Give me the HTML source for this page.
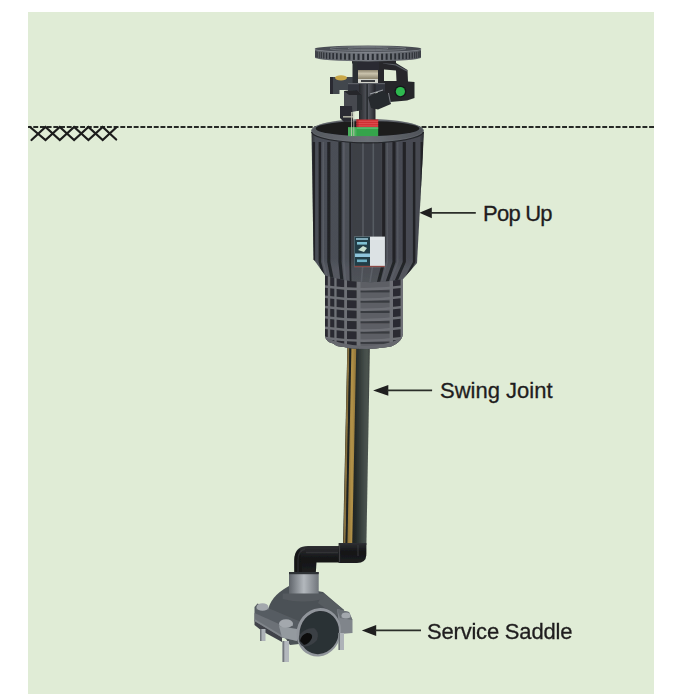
<!DOCTYPE html>
<html><head><meta charset="utf-8">
<style>
html,body{margin:0;padding:0;background:#fff;width:700px;height:700px;overflow:hidden;}
#panel{position:absolute;left:28px;top:12px;width:626px;height:682px;background:#e0ecd6;}
.lbl{position:absolute;font-family:"Liberation Sans",sans-serif;font-size:22px;line-height:22px;color:#1f1d1e;white-space:nowrap;-webkit-text-stroke:0.3px #1f1d1e;}
svg{position:absolute;left:0;top:0;}
</style></head>
<body>
<div id="panel"></div>
<svg width="700" height="700" viewBox="0 0 700 700">
  <line x1="28" y1="127" x2="654" y2="127" stroke="#262926" stroke-width="1.9" stroke-dasharray="4.9 1.794" stroke-dashoffset="1.41"/>
  <g stroke="#1c1c1c" stroke-width="2.2" fill="none" stroke-linecap="round">
    <polyline points="30,127 45.5,140 59.8,127 74.1,140 88.4,127 102.7,140 116.2,127.5"/>
    <polyline points="31.5,140 45.5,127 59.8,140 74.1,127 88.4,140 102.7,127 116.2,139.5"/>
  </g>
  <g fill="#1f1f1f">
    <polygon points="419.4,212.8 431.8,207.4 431.8,218.2"/>
    <polygon points="373.1,390.4 388.3,385.1 388.3,395.8"/>
    <polygon points="361.8,630.4 376.2,624.9 376.2,635.9"/>
  </g>
  <g stroke="#2b2e29" stroke-width="1.7">
    <line x1="430" y1="212.8" x2="475.8" y2="212.8"/>
    <line x1="387" y1="390.4" x2="432.1" y2="390.4"/>
    <line x1="375" y1="630.4" x2="421" y2="630.4"/>
  </g>
<g filter="url(#soft)">
<defs>
<filter id="soft" x="-5%" y="-5%" width="110%" height="110%"><feGaussianBlur stdDeviation="0.35"/></filter>
<linearGradient id="gBody" x1="311" x2="424" y1="0" y2="0" gradientUnits="userSpaceOnUse">
 <stop offset="0" stop-color="#2a2c30"/><stop offset="0.04" stop-color="#4a4e56"/>
 <stop offset="0.34" stop-color="#4b4f57"/><stop offset="0.37" stop-color="#3c3f45"/>
 <stop offset="0.62" stop-color="#3e4147"/><stop offset="0.66" stop-color="#484b53"/><stop offset="0.96" stop-color="#464951"/><stop offset="1" stop-color="#2a2c30"/>
</linearGradient>
<linearGradient id="gTaperV" x1="0" x2="0" y1="0" y2="1">
 <stop offset="0" stop-color="#5c5f66" stop-opacity="0"/><stop offset="0.35" stop-color="#5c5f66" stop-opacity="0.5"/><stop offset="1" stop-color="#5a5d64" stop-opacity="0.7"/>
</linearGradient>
<linearGradient id="gCage" x1="325" x2="403" y1="0" y2="0" gradientUnits="userSpaceOnUse">
 <stop offset="0" stop-color="#505258"/><stop offset="0.3" stop-color="#64666c"/>
 <stop offset="0.7" stop-color="#5e6066"/><stop offset="1" stop-color="#4a4c52"/>
</linearGradient>
<linearGradient id="gPipe" x1="0" x2="1" y1="0" y2="0">
 <stop offset="0" stop-color="#1c201f"/><stop offset="0.45" stop-color="#232927"/><stop offset="0.8" stop-color="#454e4a"/><stop offset="0.9" stop-color="#4b534f"/><stop offset="1" stop-color="#3a403d"/>
</linearGradient>
<linearGradient id="gGold" x1="0" x2="1" y1="0" y2="0">
 <stop offset="0" stop-color="#8f733a"/><stop offset="0.5" stop-color="#b39348"/><stop offset="1" stop-color="#8d7238"/>
</linearGradient>
<linearGradient id="gBlack" x1="0" x2="0" y1="0" y2="1">
 <stop offset="0" stop-color="#2e2f32"/><stop offset="0.45" stop-color="#141517"/><stop offset="1" stop-color="#1d1e20"/>
</linearGradient>
<linearGradient id="gBlackV" x1="0" x2="1" y1="0" y2="0">
 <stop offset="0" stop-color="#151618"/><stop offset="0.55" stop-color="#2c2d30"/><stop offset="1" stop-color="#131416"/>
</linearGradient>
<linearGradient id="gCoup" x1="0" x2="1" y1="0" y2="0">
 <stop offset="0" stop-color="#5f646a"/><stop offset="0.5" stop-color="#b3b8bd"/><stop offset="1" stop-color="#70757b"/>
</linearGradient>
<linearGradient id="gDisc" x1="0" x2="1" y1="0" y2="0">
 <stop offset="0" stop-color="#464a50"/><stop offset="0.5" stop-color="#555960"/><stop offset="1" stop-color="#44484e"/>
</linearGradient>
<linearGradient id="gRim" x1="0" x2="1" y1="0" y2="0">
 <stop offset="0" stop-color="#55595f"/><stop offset="0.5" stop-color="#6b6f76"/><stop offset="1" stop-color="#4e5258"/>
</linearGradient>
<linearGradient id="gRimD" x1="0" x2="1" y1="0" y2="0">
 <stop offset="0" stop-color="#5d6167"/><stop offset="0.5" stop-color="#767a81"/><stop offset="1" stop-color="#595d63"/>
</linearGradient>
<linearGradient id="gDrum" x1="0" x2="0" y1="0" y2="1">
 <stop offset="0" stop-color="#8d8570"/><stop offset="0.4" stop-color="#c9c2ac"/><stop offset="1" stop-color="#8a826c"/>
</linearGradient>
<linearGradient id="gRiser" x1="0" x2="1" y1="0" y2="0">
 <stop offset="0" stop-color="#26282c"/><stop offset="0.55" stop-color="#585b62"/><stop offset="1" stop-color="#222428"/>
</linearGradient>
<clipPath id="cBody"><path d="M311.5,132 L313.6,259.3 L325.3,275.5 Q364,287 403,279 L417,263 L424,132 Z"/></clipPath>
<clipPath id="cCage"><path d="M325,270 L325,336 Q326,342 333,343.5 Q337,347 344,347 Q350,349 358,348.6 Q372,349.5 384,347.5 Q392,347 396,344 Q402,340 403,334 L403,270 Z"/></clipPath>
</defs>
<path d="M347.5,340 L370,340 L366.4,545 L343,545 Z" fill="url(#gPipe)"/>
<path d="M347.6,340 L349.6,340 L345.6,545 L343.4,545 Z" fill="#86703f"/>
<path d="M349.6,340 L351.6,340 L347.4,545 L345.6,545 Z" fill="#1e2220"/>
<path d="M351.6,340 L356.4,340 L352.2,545 L347.4,545 Z" fill="url(#gGold)"/>
<path d="M294.3,574.5 L294.3,560 Q294.3,546 308,546 L342,546 L342,562.5 L316.5,562.5 L315.7,574.5 Z" fill="url(#gBlack)"/>
<path d="M294.3,574.5 L294.3,560 Q294.3,552 300,549 L302,574.5 Z" fill="#101113" opacity="0.6"/>
<path d="M338.6,543 L366.4,543 L366.4,554 Q366.4,563 357,563 L338.6,563 Z" fill="url(#gBlack)"/>
<line x1="339.5" y1="545" x2="339.5" y2="562.5" stroke="#3d3e41" stroke-width="1.2"/>
<path d="M306,552.5 L338,552.5" stroke="#3a3b3e" stroke-width="1.6" opacity="0.7"/>
<path d="M298,574 L298,560 Q298,551 305,549" stroke="#3a3b3e" stroke-width="1.4" fill="none" opacity="0.6"/>
<path d="M358,545 L358,556" stroke="#3a3b3e" stroke-width="1.5" opacity="0.6"/>
<path d="M268,612 Q269,597 289,586 L323,592 L344,610 L336,640 L290,645 Z" fill="#4c5156"/>
<path d="M323,593 L344,610 L336,616 L318,603 Z" fill="#565b60"/>
<rect x="289" y="572" width="29.7" height="22.5" fill="url(#gCoup)"/>
<rect x="289" y="572" width="29.7" height="2.2" fill="#2e3034"/>
<path d="M282.7,593.5 L323.3,593.5 L323.3,599 Q303,604 282.7,599 Z" fill="#555a5f"/>
<path d="M254.5,620 L282,636 L282,642 L262,631 L254.5,625 Z" fill="#3f4348"/>
<path d="M254.5,607 L257.5,603.5 L301,622 L297,641 L282,637.5 L254.5,621 Z" fill="#575c62"/>
<path d="M254.5,613 L297,632 L297,641 L282,637.5 L254.5,621 Z" fill="#6c7177"/>
<path d="M254.5,619 L282,635.5 L282,637.5 L254.5,621 Z" fill="#80858b"/>
<path d="M279,626 L297,629 L297,641 L282,637.5 Z" fill="#949a9f"/>
<path d="M337,609 L349,612 L352.5,620 L352.5,633 L340,634 Z" fill="#80858b"/>
<path d="M337,609 L349,612 L352.5,620 L340,618 Z" fill="#6a6f75"/>
<ellipse cx="318.8" cy="632.3" rx="22" ry="24.5" transform="rotate(20 318.8 632.3)" fill="#90959b"/>
<ellipse cx="319.2" cy="632.6" rx="19.5" ry="21.8" transform="rotate(20 319.2 632.6)" fill="#2c3135"/>
<path d="M299,636 Q304,628 314,628 Q320,632 317,640 Q310,648 302,646 Q298,642 299,636 Z" fill="#3a3f44"/>
<path d="M300,641 Q301,635 307,633 Q313,633 312,638 Q309,644 304,645 Z" fill="#0c0d0e"/>
<rect x="256.5" y="607" width="12" height="2.5" fill="#7f848a"/>
<ellipse cx="262.5" cy="607" rx="6" ry="3.8" fill="#a3a8ad"/>
<rect x="279" y="623.5" width="14" height="2.5" fill="#7f848a"/>
<ellipse cx="286" cy="623.5" rx="7" ry="4.3" fill="#a3a8ad"/>
<rect x="341.5" y="615.5" width="9.0" height="2.5" fill="#7f848a"/>
<ellipse cx="346" cy="615.5" rx="4.5" ry="3" fill="#a3a8ad"/>
<rect x="260" y="629" width="5.5" height="12" fill="#aeb3b8"/>
<rect x="260" y="629" width="1.5" height="12" fill="#6f7479"/>
<rect x="282.5" y="641" width="6.5" height="21" fill="#b3b8bd"/>
<rect x="282.5" y="641" width="1.8" height="21" fill="#73787d"/>
<rect x="338.5" y="633" width="5.5" height="17" fill="#aeb3b8"/>
<rect x="338.5" y="633" width="1.5" height="17" fill="#6f7479"/>
<g clip-path="url(#cCage)">
<rect x="325" y="270" width="78" height="80" fill="#2a2c31"/>
<rect x="359" y="270" width="31" height="80" fill="#5d5f65"/>
<rect x="359" y="290.2" width="31" height="2.2" fill="#383a3f"/>
<rect x="359" y="300.5" width="31" height="2.2" fill="#383a3f"/>
<rect x="359" y="310.8" width="31" height="2.2" fill="#383a3f"/>
<rect x="359" y="321.1" width="31" height="2.2" fill="#383a3f"/>
<rect x="359" y="331.4" width="31" height="2.2" fill="#383a3f"/>
<rect x="359" y="341.7" width="31" height="2.2" fill="#383a3f"/>
<rect x="327.8" y="270" width="2.4" height="80" fill="#6e7076"/>
<rect x="334.3" y="270" width="2.3" height="80" fill="#6e7076"/>
<rect x="344.2" y="270" width="2.8" height="80" fill="#6e7076"/>
<rect x="356.6" y="270" width="3.9" height="80" fill="#6e7076"/>
<rect x="389.6" y="270" width="3.4" height="80" fill="#6e7076"/>
<rect x="400.6" y="270" width="2.4" height="80" fill="#6e7076"/>
<path d="M325,285.2 Q364,290.7 403,285.2 L403,287.7 Q364,293.2 325,287.7 Z" fill="#6e7076"/>
<path d="M325,295.5 Q364,301.0 403,295.5 L403,298.0 Q364,303.5 325,298.0 Z" fill="#6e7076"/>
<path d="M325,305.8 Q364,311.3 403,305.8 L403,308.3 Q364,313.8 325,308.3 Z" fill="#6e7076"/>
<path d="M325,316.1 Q364,321.6 403,316.1 L403,318.6 Q364,324.1 325,318.6 Z" fill="#6e7076"/>
<path d="M325,326.4 Q364,331.9 403,326.4 L403,328.9 Q364,334.4 325,328.9 Z" fill="#6e7076"/>
<path d="M325,336.7 Q364,342.2 403,336.7 L403,339.2 Q364,344.7 325,339.2 Z" fill="#6e7076"/>
<path d="M325,337 Q340,345 364,346 Q392,345 403,336 L403,350 L325,350 Z" fill="#66686e"/>
</g>
<g clip-path="url(#cBody)">
<rect x="305" y="120" width="125" height="170" fill="url(#gBody)"/>
<rect x="305" y="258" width="125" height="32" fill="url(#gTaperV)"/>
<path d="M312.6,142 L315.1,142 L315.1,262 L322.8,286 L320.3,286 L312.6,262 Z" fill="#1f2024" opacity="0.9"/>
<path d="M318.6,142 L321.1,142 L321.1,262 L327.6,286 L325.1,286 L318.6,262 Z" fill="#1f2024" opacity="0.9"/>
<path d="M327.2,142 L330.4,142 L330.4,262 L335.2,286 L331.9,286 L327.2,262 Z" fill="#1f2024" opacity="0.9"/>
<path d="M338.4,142 L341.6,142 L341.6,262 L344.1,286 L340.9,286 L338.4,262 Z" fill="#1f2024" opacity="0.9"/>
<path d="M349.3,142 L351.1,142 L351.1,262 L351.6,286 L349.8,286 L349.3,262 Z" fill="#1f2024" opacity="0.9"/>
<path d="M382.1,142 L385.3,142 L385.3,262 L379.1,286 L375.9,286 L382.1,262 Z" fill="#1f2024" opacity="0.9"/>
<path d="M392.4,142 L395.6,142 L395.6,262 L387.3,286 L384.1,286 L392.4,262 Z" fill="#1f2024" opacity="0.9"/>
<path d="M402.7,142 L405.9,142 L405.9,262 L395.5,286 L392.3,286 L402.7,262 Z" fill="#1f2024" opacity="0.9"/>
<path d="M412.9,142 L415.4,142 L415.4,262 L403.0,286 L400.5,286 L412.9,262 Z" fill="#1f2024" opacity="0.9"/>
<path d="M420.6,142 L423.0,142 L423.0,262 L409.1,286 L406.7,286 L420.6,262 Z" fill="#1f2024" opacity="0.9"/>
<path d="M322.5,142 L324.1,142 L324.1,262 L330.1,286 L328.5,286 L322.5,262 Z" fill="#62666e" opacity="0.6"/>
<path d="M343.0,142 L344.8,142 L344.8,262 L346.7,286 L344.9,286 L343.0,262 Z" fill="#62666e" opacity="0.6"/>
<path d="M362.2,142 L363.8,142 L363.8,262 L361.9,286 L360.3,286 L362.2,262 Z" fill="#62666e" opacity="0.7"/>
<path d="M372.5,142 L374.1,142 L374.1,262 L370.1,286 L368.5,286 L372.5,262 Z" fill="#62666e" opacity="0.7"/>
<path d="M386.5,142 L388.0,142 L388.0,262 L381.2,286 L379.7,286 L386.5,262 Z" fill="#62666e" opacity="0.5"/>
<path d="M397.0,142 L398.5,142 L398.5,262 L389.6,286 L388.1,286 L397.0,262 Z" fill="#62666e" opacity="0.45"/>
</g>
<ellipse cx="367.5" cy="130.8" rx="56.25" ry="11.7" fill="url(#gRim)"/>
<ellipse cx="367.5" cy="130.5" rx="55.6" ry="11.1" fill="none" stroke="#6d7077" stroke-width="0.7" opacity="0.6"/>
<ellipse cx="367.5" cy="128.5" rx="51.8" ry="7.6" fill="#1a1b1e"/>
<path d="M311.4,132 A56.25,11.7 0 0 0 423.6,132" fill="none" stroke="#25272b" stroke-width="1.1"/>
<rect x="354.3" y="236.6" width="30.6" height="30.5" fill="#e3e8ea"/>
<rect x="370" y="240" width="14" height="25" fill="#d5dbde" opacity="0.5"/>
<rect x="354.3" y="236.6" width="15.7" height="30.5" fill="#223c46"/>
<rect x="356" y="238" width="12" height="2" fill="#7fa9b8"/>
<rect x="357" y="242" width="10" height="2.6" fill="#7fc0d2"/>
<path d="M358,250 L363,246 L367,248 L364,252 Z" fill="#c8e0d0"/>
<rect x="355" y="253.5" width="15" height="3.5" fill="#8ec5dc"/>
<rect x="357" y="259.5" width="10" height="2.6" fill="#6fb3c8"/>
<rect x="354.3" y="265.8" width="30.6" height="1.3" fill="#8a4a44"/>
<path d="M378,61 L396,63 L407.5,70 L408,81.5 L414.5,82 L414.5,98 L407,100.5 L390,102 L384,97 L384,95 L378,95 Z M384,69.5 L396,70.5 L396.5,81 L384,81 Z" fill="#26282c" fill-rule="evenodd"/>
<path d="M383,63 L396,65 L407,71" stroke="#5e6168" stroke-width="1.2" fill="none"/>
<circle cx="400.4" cy="91.6" r="6" fill="#17181b"/>
<circle cx="400.4" cy="91.6" r="4.6" fill="#2fb84f"/>
<path d="M330,77 L353,77 L353,90 L339.5,90 L339.5,94 L330,94 Z" fill="#42464e"/>
<rect x="330" y="77" width="3" height="17" fill="#2a2c31"/>
<ellipse cx="341" cy="77.8" rx="6" ry="2.6" fill="#c9a84a"/>
<rect x="352" y="59.5" width="44" height="4" fill="#26282c"/>
<rect x="352.5" y="60" width="5.5" height="24" fill="#2c2e33"/>
<rect x="357" y="62" width="22" height="8" fill="#2a2c30"/>
<rect x="358" y="70" width="20" height="9" fill="url(#gDrum)"/>
<rect x="358" y="79" width="20" height="4" fill="#d2d3cb"/>
<rect x="361" y="80" width="14" height="2" fill="#3a3c40"/>
<rect x="348" y="83" width="37" height="9" fill="#33363c"/>
<rect x="348" y="83" width="37" height="1.2" fill="#5b5e65"/>
<rect x="359" y="84" width="16.5" height="37" fill="url(#gRiser)"/>
<rect x="366.5" y="84" width="1.2" height="37" fill="#1c1d21"/>
<path d="M344,91 L357,90 L362,95 L362,110 L352,112 L344,110 Z" fill="#464950"/>
<path d="M344,91 L357,90 L362,95 L349,95 Z" fill="#26282c"/>
<path d="M357,95 L362,95 L362,110 L357,111 Z" fill="#2b2d32"/>
<path d="M340,106 L352,106 L353,121 L344,122 L340,118 Z" fill="#2a2c30"/>
<rect x="343" y="116" width="10" height="1.6" fill="#a9a99b"/>
<path d="M368,97 L383,90 L389,95 L391,104 L378,109.5 L371,108 Z" fill="#27292d"/>
<path d="M370,94 L383,90" stroke="#9a9da3" stroke-width="1.3"/>
<path d="M388.5,93 L390.5,103" stroke="#7c7f85" stroke-width="1"/>
<rect x="356.5" y="119.5" width="21.7" height="8" fill="#cf2f33"/>
<path d="M356.5,121.3 h21.7 M356.5,123.6 h21.7 M356.5,125.9 h21.7" stroke="#ea6a6a" stroke-width="0.7" opacity="0.8"/>
<rect x="356.5" y="119.5" width="2" height="8" fill="#9e2226" opacity="0.6"/>
<rect x="348" y="127.3" width="30.2" height="8.8" fill="#34a44b"/>
<rect x="356.5" y="127.3" width="21.7" height="1.5" fill="#5fc073"/>
<rect x="348" y="127.3" width="8.5" height="8.8" fill="#49b15c"/>
<path d="M351.5,112 L351.5,136 M353.8,112 L353.8,136" stroke="#c5c5b5" stroke-width="0.8"/>
<path d="M315,48.8 L315,57.6 A53,3.8 0 0 0 421,57.6 L421,48.8 Z" fill="url(#gRimD)"/>
<rect x="420.22" y="51.03" width="0.60" height="6.2" fill="#2c2f34"/>
<rect x="419.37" y="51.31" width="0.60" height="6.2" fill="#2c2f34"/>
<rect x="418.08" y="51.59" width="0.65" height="6.2" fill="#2c2f34"/>
<rect x="416.32" y="51.86" width="0.83" height="6.2" fill="#2c2f34"/>
<rect x="414.17" y="52.12" width="1.00" height="6.2" fill="#2c2f34"/>
<rect x="411.65" y="52.36" width="1.16" height="6.2" fill="#2c2f34"/>
<rect x="408.78" y="52.60" width="1.31" height="6.2" fill="#2c2f34"/>
<rect x="405.58" y="52.81" width="1.45" height="6.2" fill="#2c2f34"/>
<rect x="402.08" y="53.01" width="1.58" height="6.2" fill="#2c2f34"/>
<rect x="398.30" y="53.19" width="1.70" height="6.2" fill="#2c2f34"/>
<rect x="394.28" y="53.35" width="1.80" height="6.2" fill="#2c2f34"/>
<rect x="390.05" y="53.48" width="1.89" height="6.2" fill="#2c2f34"/>
<rect x="385.64" y="53.60" width="1.97" height="6.2" fill="#2c2f34"/>
<rect x="381.09" y="53.68" width="2.02" height="6.2" fill="#2c2f34"/>
<rect x="376.43" y="53.75" width="2.07" height="6.2" fill="#2c2f34"/>
<rect x="371.71" y="53.79" width="2.09" height="6.2" fill="#2c2f34"/>
<rect x="366.95" y="53.80" width="2.10" height="6.2" fill="#2c2f34"/>
<rect x="362.20" y="53.79" width="2.09" height="6.2" fill="#2c2f34"/>
<rect x="357.50" y="53.75" width="2.07" height="6.2" fill="#2c2f34"/>
<rect x="352.89" y="53.68" width="2.02" height="6.2" fill="#2c2f34"/>
<rect x="348.39" y="53.60" width="1.97" height="6.2" fill="#2c2f34"/>
<rect x="344.06" y="53.48" width="1.89" height="6.2" fill="#2c2f34"/>
<rect x="339.91" y="53.35" width="1.80" height="6.2" fill="#2c2f34"/>
<rect x="336.00" y="53.19" width="1.70" height="6.2" fill="#2c2f34"/>
<rect x="332.34" y="53.01" width="1.58" height="6.2" fill="#2c2f34"/>
<rect x="328.97" y="52.81" width="1.45" height="6.2" fill="#2c2f34"/>
<rect x="325.91" y="52.60" width="1.31" height="6.2" fill="#2c2f34"/>
<rect x="323.19" y="52.36" width="1.16" height="6.2" fill="#2c2f34"/>
<rect x="320.83" y="52.12" width="1.00" height="6.2" fill="#2c2f34"/>
<rect x="318.85" y="51.86" width="0.83" height="6.2" fill="#2c2f34"/>
<rect x="317.27" y="51.59" width="0.65" height="6.2" fill="#2c2f34"/>
<rect x="316.03" y="51.31" width="0.60" height="6.2" fill="#2c2f34"/>
<rect x="315.18" y="51.03" width="0.60" height="6.2" fill="#2c2f34"/>
<path d="M315,48.8 A53,3.2 0 0 0 421,48.8" fill="none" stroke="#8a8e95" stroke-width="1.2"/>
<ellipse cx="368" cy="48.8" rx="53" ry="3.2" fill="url(#gDisc)"/>
<ellipse cx="368" cy="48.6" rx="38" ry="2" fill="none" stroke="#7b7f86" stroke-width="0.9" opacity="0.8"/>
<ellipse cx="368" cy="48.5" rx="20" ry="1.2" fill="none" stroke="#80848b" stroke-width="0.8" opacity="0.7"/>
</g>
</svg>
<div class="lbl" style="left:483.1px;top:202.8px;letter-spacing:-0.8px;">Pop Up</div>
<div class="lbl" style="left:440px;top:380.2px;">Swing Joint</div>
<div class="lbl" style="left:427px;top:620.7px;letter-spacing:-0.2px;">Service Saddle</div>
</body></html>
